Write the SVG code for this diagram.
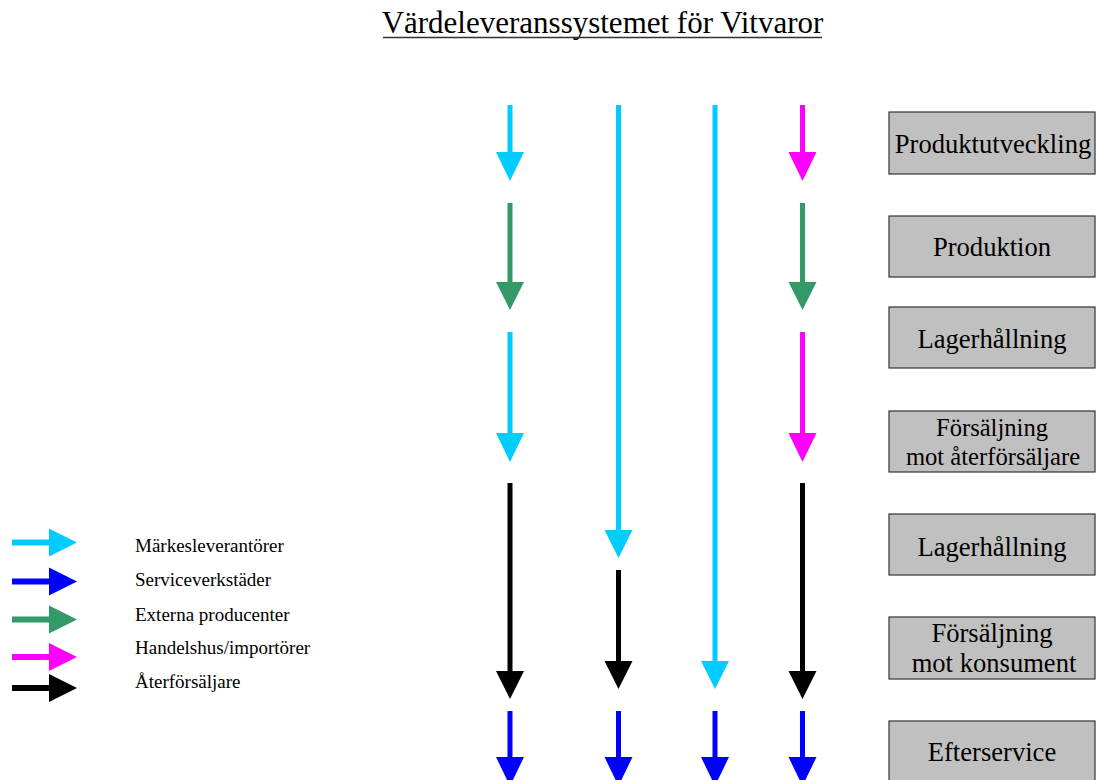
<svg xmlns="http://www.w3.org/2000/svg" width="1096" height="780" viewBox="0 0 1096 780">
  <style>
    text { font-family: "Liberation Serif", "Times New Roman", Times, "DejaVu Serif", serif; fill: #000; }
    .title { font-size: 31px; }
    .box rect { fill: #c0c0c0; stroke: #333; stroke-width: 1.2; }
    .box text { font-size: 26.6px; text-anchor: middle; }
    .box text.sm { font-size: 24.6px; }
    .legend text { font-size: 19px; }
    .cyan { fill: #00ccff; }
    .blue { fill: #0000ff; }
    .green { fill: #339966; }
    .magenta { fill: #ff00ff; }
    .black { fill: #000000; }
  </style>
  <rect width="1096" height="780" fill="#ffffff"/>

  <!-- title -->
  <text class="title" x="602.5" y="33" text-anchor="middle">Värdeleveranssystemet för Vitvaror</text>
  <line x1="383" y1="37.5" x2="822" y2="37.5" stroke="#333" stroke-width="1.5"/>

  <!-- process steps -->
  <g id="step-produktutveckling" class="box">
    <rect x="889" y="112" width="206" height="62"/>
    <text x="993" y="153">Produktutveckling</text>
  </g>
  <g id="step-produktion" class="box">
    <rect x="889" y="216" width="206" height="61"/>
    <text x="992" y="256">Produktion</text>
  </g>
  <g id="step-lagerhallning-1" class="box">
    <rect x="889" y="307" width="206" height="61"/>
    <text x="992" y="348">Lagerhållning</text>
  </g>
  <g id="step-forsaljning-ater" class="box">
    <rect x="889" y="411" width="206" height="61"/>
    <text class="sm" x="992" y="436">Försäljning</text>
    <text class="sm" x="993" y="465">mot återförsäljare</text>
  </g>
  <g id="step-lagerhallning-2" class="box">
    <rect x="889" y="514" width="206" height="61"/>
    <text x="992" y="556">Lagerhållning</text>
  </g>
  <g id="step-forsaljning-konsument" class="box">
    <rect x="889" y="617" width="206" height="62"/>
    <text x="992" y="642">Försäljning</text>
    <text x="994" y="672">mot konsument</text>
  </g>
  <g id="step-efterservice" class="box">
    <rect x="889" y="721" width="206" height="62"/>
    <text x="992" y="761">Efterservice</text>
  </g>

  <!-- flow arrows per channel column -->
  <g id="connectors">
    <!-- column 1: x = 510 -->
    <polygon class="cyan" points="507.5,105 512.5,105 512.5,152 524,152 510,181 496,152 507.5,152"/>
    <polygon class="green" points="507.5,203 512.5,203 512.5,282 524,282 510,310 496,282 507.5,282"/>
    <polygon class="cyan" points="507.5,332 512.5,332 512.5,433 524,433 510,462 496,433 507.5,433"/>
    <polygon class="black" points="507.5,483 512.5,483 512.5,671 524,671 510,699 496,671 507.5,671"/>
    <polygon class="blue" points="507.5,711 512.5,711 512.5,757 524,757 510,786 496,757 507.5,757"/>

    <!-- column 2: x = 618.5 -->
    <polygon class="cyan" points="616,105 621,105 621,530 632.5,530 618.5,558 604.5,530 616,530"/>
    <polygon class="black" points="616,570 621,570 621,661 632.5,661 618.5,689 604.5,661 616,661"/>
    <polygon class="blue" points="616,711 621,711 621,757 632.5,757 618.5,786 604.5,757 616,757"/>

    <!-- column 3: x = 715 -->
    <polygon class="cyan" points="712.5,105 717.5,105 717.5,661 729,661 715,689 701,661 712.5,661"/>
    <polygon class="blue" points="712.5,711 717.5,711 717.5,757 729,757 715,786 701,757 712.5,757"/>

    <!-- column 4: x = 802.5 -->
    <polygon class="magenta" points="800,105 805,105 805,152 816.5,152 802.5,181 788.5,152 800,152"/>
    <polygon class="green" points="800,203 805,203 805,282 816.5,282 802.5,310 788.5,282 800,282"/>
    <polygon class="magenta" points="800,332 805,332 805,433 816.5,433 802.5,462 788.5,433 800,433"/>
    <polygon class="black" points="800,483 805,483 805,671 816.5,671 802.5,699 788.5,671 800,671"/>
    <polygon class="blue" points="800,711 805,711 805,757 816.5,757 802.5,786 788.5,757 800,757"/>
  </g>

  <!-- legend -->
  <g id="legend" class="legend">
    <polygon class="cyan" points="12,539.5 49,539.5 49,528.5 77,542.5 49,556.5 49,545.5 12,545.5"/>
    <text x="135" y="552">Märkesleverantörer</text>
    <polygon class="blue" points="12,578.5 49,578.5 49,567.5 77,581.5 49,595.5 49,584.5 12,584.5"/>
    <text x="135" y="586">Serviceverkstäder</text>
    <polygon class="green" points="12,616.5 49,616.5 49,605.5 77,619.5 49,633.5 49,622.5 12,622.5"/>
    <text x="135" y="621">Externa producenter</text>
    <polygon class="magenta" points="12,654 49,654 49,643 77,657 49,671 49,660 12,660"/>
    <text x="135" y="654">Handelshus/importörer</text>
    <polygon class="black" points="12,685 49,685 49,674 77,688 49,702 49,691 12,691"/>
    <text x="135" y="688">Återförsäljare</text>
  </g>
</svg>
